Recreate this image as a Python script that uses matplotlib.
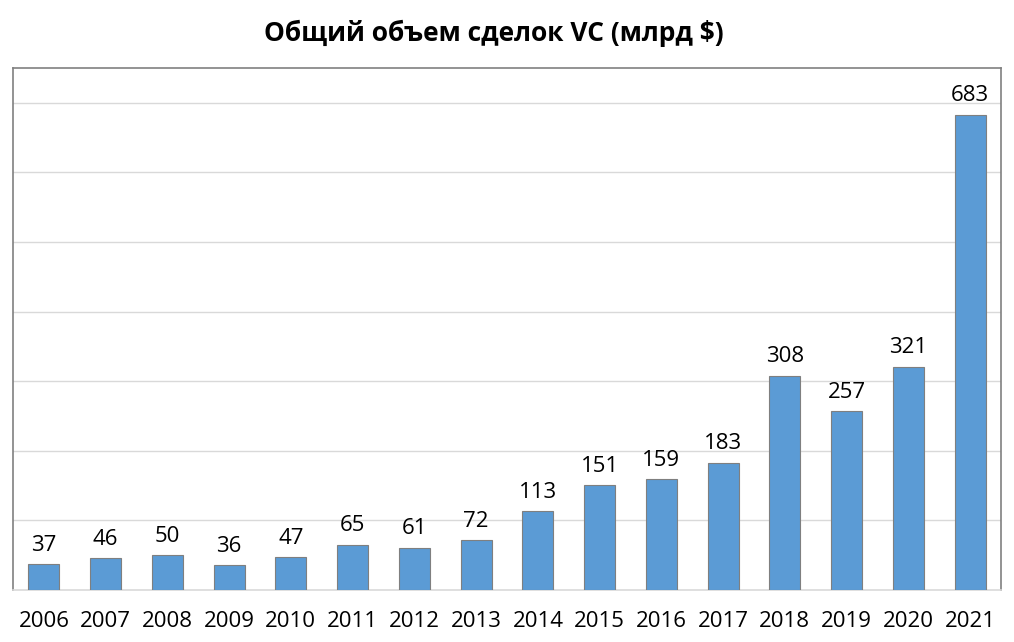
import matplotlib
matplotlib.use("Agg")
import matplotlib.pyplot as plt
import numpy as np

# ---------- data ----------
years = ["2006", "2007", "2008", "2009", "2010", "2011", "2012", "2013",
         "2014", "2015", "2016", "2017", "2018", "2019", "2020", "2021"]
volume = [37, 46, 50, 36, 47, 65, 61, 72, 113, 151, 159, 183, 308, 257, 321, 683]
title = "Общий объем сделок VC (млрд $)"
# --------------------------

plt.rcParams['font.family'] = ['Open Sans', 'DejaVu Sans']

fig = plt.figure(figsize=(10.14, 6.42), dpi=100)
# plot area in pixels: left 13, right 1001, top 68, bottom 590
ax = fig.add_axes([13 / 1014, 1 - 590 / 642, (1001 - 13) / 1014, (590 - 68) / 642])

x = np.arange(len(years))
ax.bar(x, volume, width=0.5, color="#5B9BD5", edgecolor="#7f7f7f", linewidth=0.8, zorder=3)

for xi, v in zip(x, volume):
    ax.annotate(str(v), (xi, v), xytext=(0, 6), textcoords="offset points",
                ha="center", va="bottom", fontsize=16, color="#000000")

ax.set_xlim(-0.5, len(years) - 0.5)
ax.set_ylim(0, 750)
ax.set_yticks(np.arange(100, 701, 100))
ax.yaxis.grid(True, color="#d9d9d9", linewidth=1, zorder=0)
ax.tick_params(axis="y", left=False, labelleft=False)
ax.set_xticks(x)
ax.set_xticklabels(years, fontsize=16)
ax.tick_params(axis="x", length=0, pad=15)

for side in ["left", "top", "right"]:
    ax.spines[side].set_color("#808080")
    ax.spines[side].set_linewidth(1.2)
ax.spines["bottom"].set_color("#d9d9d9")
ax.spines["bottom"].set_linewidth(1.2)

fig.text(494 / 1014, 1 - 33 / 642, title, ha="center", va="center",
         fontsize=19, fontweight="bold")

fig.savefig("out.png", dpi=100)
